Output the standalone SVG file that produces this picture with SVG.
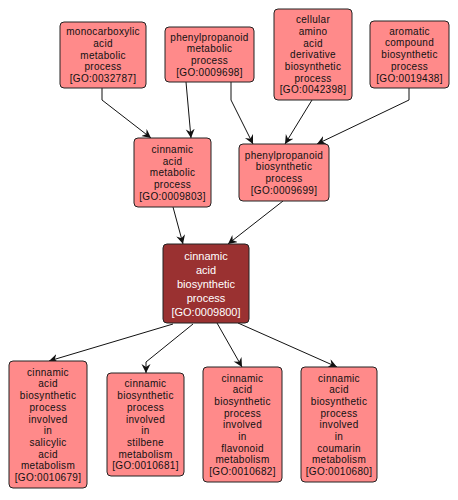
<svg xmlns="http://www.w3.org/2000/svg" width="458" height="500" viewBox="0 0 458 500">
<style>
.n rect{fill:#FF8A8A;stroke:#222;stroke-width:1}
.n text{font-family:"Liberation Sans",Arial,sans-serif;font-size:10px;letter-spacing:0.3px;fill:#111;text-anchor:middle}
.d rect{fill:#9A3131;stroke:#222;stroke-width:1}
.d text{font-family:"Liberation Sans",Arial,sans-serif;font-size:11px;fill:#fff;text-anchor:middle}
.e path{fill:none;stroke:#111;stroke-width:1;marker-end:url(#ah)}
</style>
<defs>
<marker id="ah" markerWidth="10" markerHeight="10" refX="9" refY="4.5" orient="auto" markerUnits="userSpaceOnUse">
<path d="M0,0 L9,4.5 L0,9 L3,4.5 z" fill="#111"/>
</marker>
</defs>
<rect width="458" height="500" fill="#fff"/>
<g id="edges" class="e">
<path d="M102,88 L102,100 L151,138"/>
<path d="M186,82 L191,138"/>
<path d="M231,82 L231,100 L253,144"/>
<path d="M312,100 L285,144"/>
<path d="M409,88 L409,100 L317,144"/>
<path d="M173,207 L183,244"/>
<path d="M283,201 L228,244"/>
<path d="M173,324 L49,361"/>
<path d="M193,324 L146,362 L146,373"/>
<path d="M217,323 L242,367"/>
<path d="M238,323 L337,367"/>
</g>
<g id="GO0032787" class="n">
<rect x="60" y="22" width="86" height="66" rx="4"/>
<text x="103" y="35.2">monocarboxylic<tspan x="103" dy="11.7">acid</tspan><tspan x="103" dy="11.7">metabolic</tspan><tspan x="103" dy="11.7">process</tspan><tspan x="103" dy="11.7">[GO:0032787]</tspan></text>
</g>
<g id="GO0009698" class="n">
<rect x="165" y="27" width="89" height="55" rx="4"/>
<text x="209.5" y="40.5">phenylpropanoid<tspan x="209.5" dy="11.7">metabolic</tspan><tspan x="209.5" dy="11.7">process</tspan><tspan x="209.5" dy="11.7">[GO:0009698]</tspan></text>
</g>
<g id="GO0042398" class="n">
<rect x="274" y="9" width="78" height="91" rx="4"/>
<text x="313" y="23.2">cellular<tspan x="313" dy="11.7">amino</tspan><tspan x="313" dy="11.7">acid</tspan><tspan x="313" dy="11.7">derivative</tspan><tspan x="313" dy="11.7">biosynthetic</tspan><tspan x="313" dy="11.7">process</tspan><tspan x="313" dy="11.7">[GO:0042398]</tspan></text>
</g>
<g id="GO0019438" class="n">
<rect x="370" y="21" width="79" height="67" rx="4"/>
<text x="409.5" y="34.7">aromatic<tspan x="409.5" dy="11.7">compound</tspan><tspan x="409.5" dy="11.7">biosynthetic</tspan><tspan x="409.5" dy="11.7">process</tspan><tspan x="409.5" dy="11.7">[GO:0019438]</tspan></text>
</g>
<g id="GO0009803" class="n">
<rect x="134" y="138" width="77" height="69" rx="4"/>
<text x="172.5" y="152.9">cinnamic<tspan x="172.5" dy="11.7">acid</tspan><tspan x="172.5" dy="11.7">metabolic</tspan><tspan x="172.5" dy="11.7">process</tspan><tspan x="172.5" dy="11.7">[GO:0009803]</tspan></text>
</g>
<g id="GO0009699" class="n">
<rect x="239" y="144" width="90" height="57" rx="4"/>
<text x="284" y="158.5">phenylpropanoid<tspan x="284" dy="11.7">biosynthetic</tspan><tspan x="284" dy="11.7">process</tspan><tspan x="284" dy="11.7">[GO:0009699]</tspan></text>
</g>
<g id="GO0009800" class="d">
<rect x="163" y="244" width="86" height="79" rx="4"/>
<text x="206" y="259.5">cinnamic<tspan x="206" dy="14">acid</tspan><tspan x="206" dy="14">biosynthetic</tspan><tspan x="206" dy="14">process</tspan><tspan x="206" dy="14">[GO:0009800]</tspan></text>
</g>
<g id="GO0010679" class="n">
<rect x="9" y="361" width="78" height="127" rx="4"/>
<text x="48" y="375.7">cinnamic<tspan x="48" dy="11.7">acid</tspan><tspan x="48" dy="11.7">biosynthetic</tspan><tspan x="48" dy="11.7">process</tspan><tspan x="48" dy="11.7">involved</tspan><tspan x="48" dy="11.7">in</tspan><tspan x="48" dy="11.7">salicylic</tspan><tspan x="48" dy="11.7">acid</tspan><tspan x="48" dy="11.7">metabolism</tspan><tspan x="48" dy="11.7">[GO:0010679]</tspan></text>
</g>
<g id="GO0010681" class="n">
<rect x="107" y="373" width="77" height="103" rx="4"/>
<text x="145.5" y="387.4">cinnamic<tspan x="145.5" dy="11.7">biosynthetic</tspan><tspan x="145.5" dy="11.7">process</tspan><tspan x="145.5" dy="11.7">involved</tspan><tspan x="145.5" dy="11.7">in</tspan><tspan x="145.5" dy="11.7">stilbene</tspan><tspan x="145.5" dy="11.7">metabolism</tspan><tspan x="145.5" dy="11.7">[GO:0010681]</tspan></text>
</g>
<g id="GO0010682" class="n">
<rect x="203" y="367" width="79" height="115" rx="4"/>
<text x="242.5" y="381.5">cinnamic<tspan x="242.5" dy="11.7">acid</tspan><tspan x="242.5" dy="11.7">biosynthetic</tspan><tspan x="242.5" dy="11.7">process</tspan><tspan x="242.5" dy="11.7">involved</tspan><tspan x="242.5" dy="11.7">in</tspan><tspan x="242.5" dy="11.7">flavonoid</tspan><tspan x="242.5" dy="11.7">metabolism</tspan><tspan x="242.5" dy="11.7">[GO:0010682]</tspan></text>
</g>
<g id="GO0010680" class="n">
<rect x="301" y="367" width="76" height="115" rx="4"/>
<text x="339" y="381.5">cinnamic<tspan x="339" dy="11.7">acid</tspan><tspan x="339" dy="11.7">biosynthetic</tspan><tspan x="339" dy="11.7">process</tspan><tspan x="339" dy="11.7">involved</tspan><tspan x="339" dy="11.7">in</tspan><tspan x="339" dy="11.7">coumarin</tspan><tspan x="339" dy="11.7">metabolism</tspan><tspan x="339" dy="11.7">[GO:0010680]</tspan></text>
</g>
</svg>
